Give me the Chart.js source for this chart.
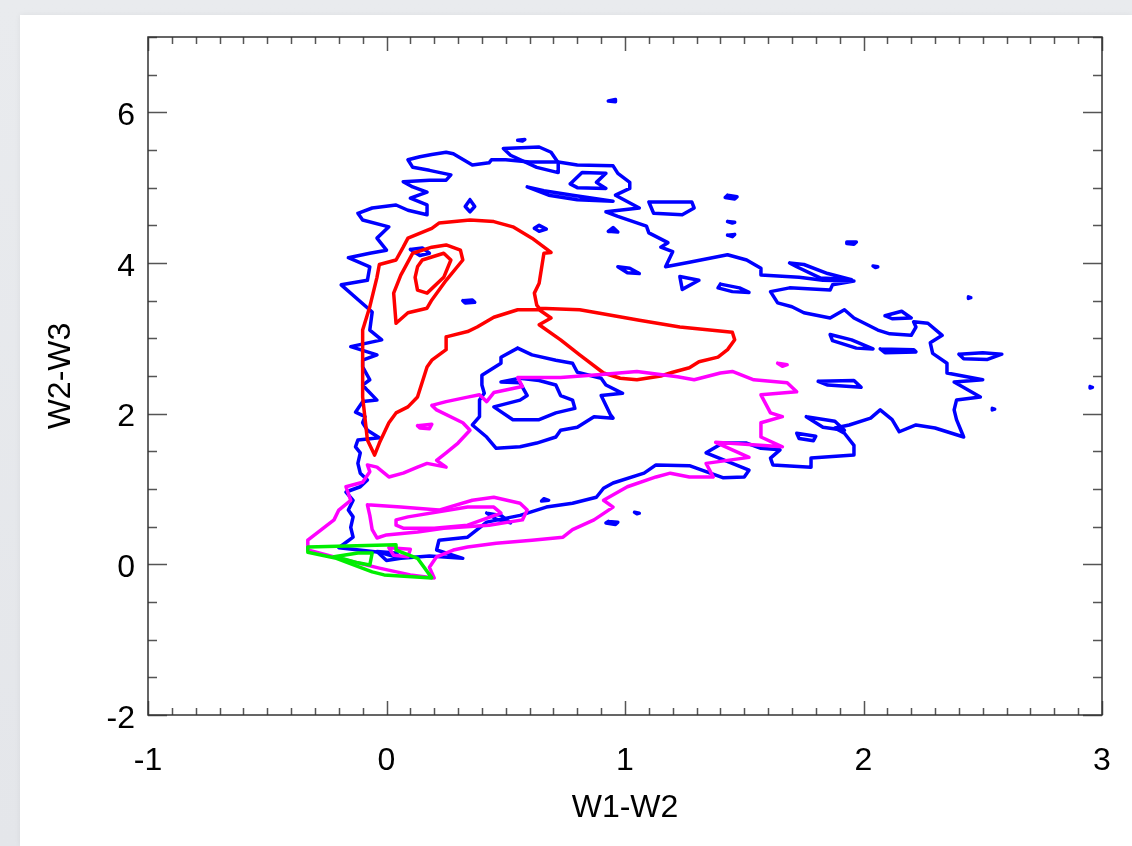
<!DOCTYPE html>
<html>
<head>
<meta charset="utf-8">
<script src="https://cdn.jsdelivr.net/npm/chart.js@4.4.1/dist/chart.umd.min.js"></script>
<style>
  html, body { margin: 0; padding: 0; width: 1132px; height: 846px; overflow: hidden;
    background: linear-gradient(180deg, #e9ebee 0%, #e4e6ea 100%); }
  #card { position: absolute; left: 20px; top: 15px; width: 1112px; height: 831px; background: #ffffff;
    box-shadow: 0 0 6px rgba(0,0,0,0.06); }
  #wrap { position: absolute; left: 0; top: 0; width: 1132px; height: 846px; }
</style>
</head>
<body>
<div id="card"></div>
<div id="wrap"><canvas id="c" width="1132" height="846"></canvas></div>
<script>
// ---------------- DATA (W1-W2, W2-W3) ----------------
const xTickValues = [-1, 0, 1, 2, 3];
const yTickValues = [-2, 0, 2, 4, 6];
const xRange = [-1, 3];
const yRange = [-2, 7];

// Blue contours
const blueOuter = [[-0.20,0.22],[-0.14,0.36],[-0.15,0.49],[-0.14,0.63],[-0.16,0.72],[-0.14,0.85],[-0.17,0.96],[-0.11,1.03],[-0.08,1.12],[-0.11,1.21],[-0.12,1.34],[-0.11,1.48],[-0.13,1.56],[-0.12,1.65],[-0.03,1.68],[-0.08,1.78],[-0.10,1.88],[-0.09,1.96],[-0.13,2.02],[-0.10,2.16],[-0.04,2.18],[-0.08,2.31],[-0.10,2.38],[-0.07,2.45],[-0.10,2.62],[-0.10,2.71],[-0.04,2.78],[-0.11,2.85],[-0.15,2.89],[-0.02,2.98],[-0.07,3.11],[-0.06,3.35],[-0.19,3.71],[-0.08,3.77],[-0.07,3.95],[-0.16,4.07],[-0.07,4.13],[0.00,4.17],[-0.04,4.33],[0.01,4.48],[-0.10,4.57],[-0.12,4.66],[-0.06,4.73],[0.04,4.77],[0.09,4.70],[0.17,4.64],[0.17,4.77],[0.10,4.86],[0.17,4.94],[0.11,5.01],[0.07,5.08],[0.18,5.10],[0.25,5.10],[0.27,5.17],[0.18,5.23],[0.11,5.27],[0.09,5.37],[0.14,5.41],[0.19,5.44],[0.25,5.47],[0.28,5.45],[0.36,5.30],[0.43,5.33],[0.44,5.37],[0.50,5.37],[0.60,5.34],[0.72,5.34],[0.80,5.30],[0.95,5.29],[0.97,5.19],[1.02,5.07],[1.02,4.99],[0.96,4.90],[1.06,4.73],[0.92,4.68],[0.97,4.62],[1.09,4.49],[1.10,4.40],[1.18,4.27],[1.15,4.21],[1.20,4.15],[1.17,3.95],[1.27,4.01],[1.43,4.11],[1.51,4.04],[1.57,3.93],[1.57,3.84],[1.73,3.81],[1.83,3.77],[1.96,3.76],[1.87,3.71],[1.86,3.64],[1.69,3.67],[1.61,3.62],[1.64,3.47],[1.70,3.42],[1.75,3.34],[1.86,3.27],[1.92,3.38],[1.96,3.27],[2.06,3.11],[2.11,3.06],[2.20,3.04],[2.22,3.15],[2.21,3.22],[2.27,3.20],[2.33,3.04],[2.28,2.94],[2.29,2.80],[2.35,2.67],[2.35,2.54],[2.50,2.45],[2.38,2.42],[2.49,2.22],[2.39,2.18],[2.38,2.05],[2.39,1.92],[2.42,1.69],[2.30,1.81],[2.22,1.85],[2.15,1.76],[2.12,1.92],[2.07,2.05],[2.03,1.94],[1.94,1.85],[1.88,1.81],[1.92,1.74],[1.96,1.58],[1.96,1.45],[1.78,1.41],[1.78,1.29],[1.62,1.32],[1.61,1.41],[1.65,1.52],[1.57,1.54],[1.51,1.61],[1.41,1.61],[1.34,1.48],[1.52,1.25],[1.50,1.16],[1.41,1.15],[1.27,1.31],[1.13,1.32],[1.08,1.21],[0.95,1.08],[0.91,1.01],[0.88,0.89],[0.78,0.81],[0.67,0.76],[0.56,0.65],[0.42,0.56],[0.34,0.36],[0.22,0.32],[0.21,0.19],[0.32,0.08],[0.18,0.11],[0.06,0.08],[-0.03,0.16]];
const blueHole = [[0.55,2.87],[0.61,2.78],[0.71,2.71],[0.78,2.67],[0.80,2.55],[0.85,2.51],[0.90,2.47],[0.92,2.38],[0.99,2.27],[0.90,2.24],[0.94,1.98],[0.95,1.94],[0.87,1.96],[0.80,1.82],[0.73,1.78],[0.71,1.69],[0.63,1.61],[0.56,1.56],[0.46,1.54],[0.42,1.69],[0.36,1.85],[0.39,1.96],[0.39,2.18],[0.41,2.27],[0.40,2.38],[0.40,2.51],[0.48,2.67],[0.48,2.75]];
const blueCore = [[0.48,2.42],[0.56,2.41],[0.59,2.24],[0.56,2.18],[0.45,2.09],[0.53,1.92],[0.64,1.92],[0.71,2.01],[0.79,2.07],[0.78,2.18],[0.73,2.24],[0.71,2.38],[0.64,2.44],[0.56,2.47]];
const blueIslands = [
  [[0.93,6.15],[0.96,6.17],[0.96,6.14]],
  [[0.55,5.63],[0.58,5.64],[0.57,5.62]],
  [[0.35,4.84],[0.37,4.75],[0.35,4.68],[0.33,4.75]],
  [[0.62,4.46],[0.64,4.50],[0.67,4.45],[0.64,4.42]],
  [[0.93,4.42],[0.95,4.47],[0.97,4.41]],
  [[0.10,4.18],[0.15,4.20],[0.18,4.13],[0.14,4.10]],
  [[0.32,3.50],[0.36,3.51],[0.37,3.48],[0.33,3.47]],
  [[0.97,3.95],[1.02,3.93],[1.06,3.86],[1.01,3.87]],
  [[1.43,4.90],[1.47,4.88],[1.46,4.85],[1.42,4.87]],
  [[1.43,4.55],[1.46,4.54],[1.45,4.53]],
  [[1.43,4.37],[1.46,4.38],[1.45,4.35]],
  [[1.93,4.28],[1.97,4.28],[1.96,4.25],[1.93,4.26]],
  [[2.04,3.96],[2.06,3.95],[2.05,3.94]],
  [[2.44,3.55],[2.45,3.54],[2.44,3.53]],
  [[2.54,2.07],[2.55,2.06],[2.54,2.05]],
  [[2.95,2.36],[2.96,2.35],[2.95,2.34]],
  [[2.40,2.79],[2.50,2.81],[2.58,2.79],[2.52,2.72],[2.42,2.73]],
  [[1.23,3.82],[1.31,3.77],[1.24,3.65]],
  [[1.40,3.72],[1.48,3.67],[1.52,3.61],[1.45,3.62],[1.39,3.67]],
  [[1.69,4.00],[1.75,3.98],[1.85,3.86],[1.95,3.78],[1.82,3.80],[1.72,3.95]],
  [[1.86,3.05],[1.95,2.98],[2.04,2.86],[1.97,2.87],[1.87,2.97]],
  [[2.07,2.86],[2.21,2.85],[2.22,2.82],[2.09,2.81]],
  [[2.09,3.30],[2.16,3.36],[2.20,3.27],[2.12,3.26]],
  [[1.81,2.43],[1.96,2.44],[1.99,2.35],[1.85,2.38]],
  [[1.76,1.96],[1.88,1.90],[1.92,1.78],[1.83,1.82]],
  [[1.72,1.74],[1.80,1.70],[1.79,1.64],[1.73,1.67]],
  [[0.66,0.87],[0.68,0.85],[0.65,0.84]],
  [[1.04,0.69],[1.06,0.68],[1.05,0.67]],
  [[0.93,0.57],[0.97,0.56],[0.96,0.53],[0.92,0.55]],
  [[0.42,0.68],[0.48,0.65],[0.52,0.55],[0.46,0.60]],
  [[-0.04,0.17],[0.04,0.15],[0.06,0.08],[0.00,0.05]],
  [[1.10,4.81],[1.28,4.81],[1.29,4.73],[1.24,4.64],[1.12,4.66]],
  [[0.49,5.52],[0.64,5.54],[0.69,5.47],[0.72,5.33],[0.72,5.20],[0.63,5.27],[0.52,5.43]],
  [[0.77,5.05],[0.82,5.20],[0.92,5.19],[0.88,5.07],[0.92,4.99],[0.80,5.00]],
  [[0.59,5.01],[0.66,4.96],[0.78,4.90],[0.95,4.82],[0.80,4.84],[0.68,4.90]]
];

// Red contours
const redOuter = [[-0.05,1.45],[-0.08,1.65],[-0.10,2.22],[-0.10,2.67],[-0.10,3.11],[-0.07,3.42],[-0.04,3.81],[-0.03,3.98],[0.04,4.04],[0.07,4.21],[0.09,4.33],[0.19,4.46],[0.22,4.53],[0.35,4.57],[0.45,4.55],[0.53,4.48],[0.61,4.33],[0.69,4.14],[0.66,4.13],[0.64,3.73],[0.62,3.60],[0.63,3.44],[0.64,3.40],[0.81,3.38],[0.90,3.33],[1.06,3.24],[1.23,3.15],[1.45,3.08],[1.46,2.98],[1.43,2.85],[1.39,2.75],[1.31,2.69],[1.27,2.61],[1.20,2.55],[1.15,2.50],[1.05,2.45],[0.98,2.47],[0.91,2.54],[0.81,2.78],[0.73,2.98],[0.64,3.18],[0.69,3.27],[0.64,3.38],[0.55,3.38],[0.45,3.28],[0.38,3.15],[0.34,3.09],[0.25,3.02],[0.25,2.85],[0.19,2.71],[0.17,2.62],[0.13,2.22],[0.09,2.09],[0.04,2.01],[0.01,1.88],[-0.03,1.61]];
const redMid = [[0.04,3.20],[0.03,3.60],[0.06,3.84],[0.11,4.13],[0.19,4.21],[0.25,4.24],[0.31,4.17],[0.32,4.04],[0.25,3.77],[0.19,3.51],[0.17,3.40],[0.09,3.34]];
const redCore = [[0.13,3.95],[0.15,4.04],[0.24,4.13],[0.27,4.04],[0.24,3.81],[0.17,3.60],[0.13,3.64],[0.12,3.81]];

// Magenta contours
const magentaOuter = [[0.19,2.11],[0.25,2.16],[0.34,2.22],[0.39,2.25],[0.42,2.16],[0.45,2.28],[0.57,2.36],[0.55,2.48],[0.73,2.48],[0.90,2.52],[1.05,2.56],[1.22,2.49],[1.29,2.45],[1.40,2.54],[1.45,2.56],[1.54,2.45],[1.68,2.41],[1.72,2.29],[1.57,2.25],[1.61,2.01],[1.66,1.96],[1.57,1.88],[1.57,1.69],[1.66,1.56],[1.38,1.62],[1.52,1.42],[1.34,1.34],[1.37,1.16],[1.27,1.16],[1.19,1.21],[1.13,1.16],[1.01,1.03],[0.91,0.85],[0.95,0.76],[0.87,0.59],[0.78,0.46],[0.74,0.36],[0.61,0.32],[0.46,0.28],[0.34,0.23],[0.28,0.19],[0.21,0.10],[0.18,-0.04],[0.20,-0.18],[0.10,-0.14],[-0.03,-0.05],[-0.20,0.08],[-0.33,0.19],[-0.33,0.32],[-0.22,0.59],[-0.20,0.72],[-0.15,0.85],[-0.17,1.03],[-0.10,1.09],[-0.07,1.23],[-0.08,1.32],[-0.04,1.29],[0.01,1.16],[0.07,1.21],[0.13,1.29],[0.17,1.34],[0.25,1.29],[0.21,1.38],[0.25,1.48],[0.30,1.61],[0.35,1.78],[0.32,1.88],[0.21,2.05]];
const magentaMid = [[-0.08,0.79],[0.06,0.76],[0.22,0.72],[0.36,0.85],[0.45,0.89],[0.56,0.81],[0.59,0.72],[0.57,0.59],[0.43,0.52],[0.24,0.48],[0.13,0.43],[0.00,0.39],[-0.04,0.35],[-0.06,0.46],[-0.07,0.65]];
const magentaCore = [[0.04,0.59],[0.09,0.63],[0.34,0.76],[0.45,0.76],[0.48,0.68],[0.34,0.52],[0.20,0.48],[0.07,0.48],[0.04,0.52]];
const magentaIslands = [
  [[0.13,1.84],[0.19,1.86],[0.18,1.80],[0.14,1.81]],
  [[1.64,2.67],[1.68,2.65],[1.66,2.63]],
  [[0.01,0.22],[0.10,0.20],[0.09,0.10],[0.03,0.12]]
];

// Green contours
const greenOuter = [[-0.33,0.23],[0.04,0.26],[0.04,0.19],[0.13,0.08],[0.19,-0.18],[-0.01,-0.14],[-0.06,-0.10],[-0.21,0.08],[-0.33,0.16]];
const greenCore = [[-0.22,0.10],[-0.12,0.15],[-0.06,0.15],[-0.07,-0.01],[-0.12,0.02],[-0.19,0.08]];

// ---------------- BUILD ----------------
const COLORS = { blue: '#0000ff', red: '#ff0000', magenta: '#ff00ff', green: '#00ee00' };
const ORDER = { green: 1, magenta: 2, red: 3, blue: 4 };

function loop(points, color) {
  const pts = points.map(p => ({ x: p[0], y: p[1] }));
  pts.push({ x: points[0][0], y: points[0][1] });
  return {
    data: pts, showLine: true, borderColor: COLORS[color], backgroundColor: COLORS[color],
    borderWidth: 3.5, pointRadius: 0, pointHoverRadius: 0, tension: 0, fill: false,
    borderJoinStyle: 'round', borderCapStyle: 'round', order: ORDER[color]
  };
}

const datasets = [];
[blueOuter, blueHole, blueCore, ...blueIslands].forEach(c => datasets.push(loop(c, 'blue')));
[redOuter, redMid, redCore].forEach(c => datasets.push(loop(c, 'red')));
[magentaOuter, magentaMid, magentaCore, ...magentaIslands].forEach(c => datasets.push(loop(c, 'magenta')));
[greenOuter, greenCore].forEach(c => datasets.push(loop(c, 'green')));

const FONT = 'Liberation Sans, Arial, Helvetica, sans-serif';

const framePlugin = {
  id: 'frameTicks',
  afterDatasetsDraw(chart) {
    const { ctx, chartArea: a, scales: { x, y } } = chart;
    ctx.save();
    ctx.lineCap = 'butt';
    ctx.strokeStyle = '#555';
    ctx.lineWidth = 1.5;
    ctx.beginPath();
    for (let i = 0; i <= 40; i++) {
      const v = xRange[0] + i * 0.1;
      const px = Math.round(x.getPixelForValue(v)) + 0.5;
      const major = i % 10 === 0;
      const len = major ? 14 : 7;
      ctx.moveTo(px, a.bottom); ctx.lineTo(px, a.bottom - len);
      ctx.moveTo(px, a.top); ctx.lineTo(px, a.top + len);
    }
    for (let i = 0; i <= 18; i++) {
      const v = yRange[0] + i * 0.5;
      const py = Math.round(y.getPixelForValue(v)) + 0.5;
      const major = i % 4 === 0;
      const len = major ? 19 : 9;
      ctx.moveTo(a.left, py); ctx.lineTo(a.left + len, py);
      ctx.moveTo(a.right, py); ctx.lineTo(a.right - len, py);
    }
    ctx.stroke();
    ctx.strokeStyle = '#333';
    ctx.lineWidth = 1.5;
    ctx.strokeRect(a.left, a.top, a.right - a.left, a.bottom - a.top);
    ctx.restore();
  }
};

new Chart(document.getElementById('c'), {
  type: 'scatter',
  data: { datasets },
  options: {
    responsive: false,
    animation: false,
    devicePixelRatio: 1,
    layout: { padding: { top: 37, right: 30, left: 0, bottom: 0 } },
    plugins: { legend: { display: false }, tooltip: { enabled: false } },
    events: [],
    scales: {
      x: {
        type: 'linear', min: xRange[0], max: xRange[1],
        afterFit: s => { s.height = 131; s.paddingLeft = 0; s.paddingRight = 0; },
        afterBuildTicks: s => { s.ticks = xTickValues.map(v => ({ value: v })); },
        grid: { display: false, drawTicks: false },
        border: { display: false },
        ticks: { color: '#000', font: { family: FONT, size: 32 }, padding: 27, maxRotation: 0,
                 callback: v => String(v) },
        title: { display: true, text: 'W1-W2', color: '#000', font: { family: FONT, size: 32 },
                 padding: { top: 0, bottom: 19 } }
      },
      y: {
        type: 'linear', min: yRange[0], max: yRange[1],
        afterFit: s => { s.width = 148; s.paddingTop = 0; s.paddingBottom = 0; },
        afterBuildTicks: s => { s.ticks = yTickValues.map(v => ({ value: v })); },
        grid: { display: false, drawTicks: false },
        border: { display: false },
        ticks: { color: '#000', font: { family: FONT, size: 32 }, padding: 13, labelOffset: 4,
                 callback: v => String(v) },
        title: { display: true, text: 'W2-W3', color: '#000', font: { family: FONT, size: 32 },
                 padding: { top: 42, bottom: 0 } }
      }
    }
  },
  plugins: [framePlugin]
});
</script>
</body>
</html>
